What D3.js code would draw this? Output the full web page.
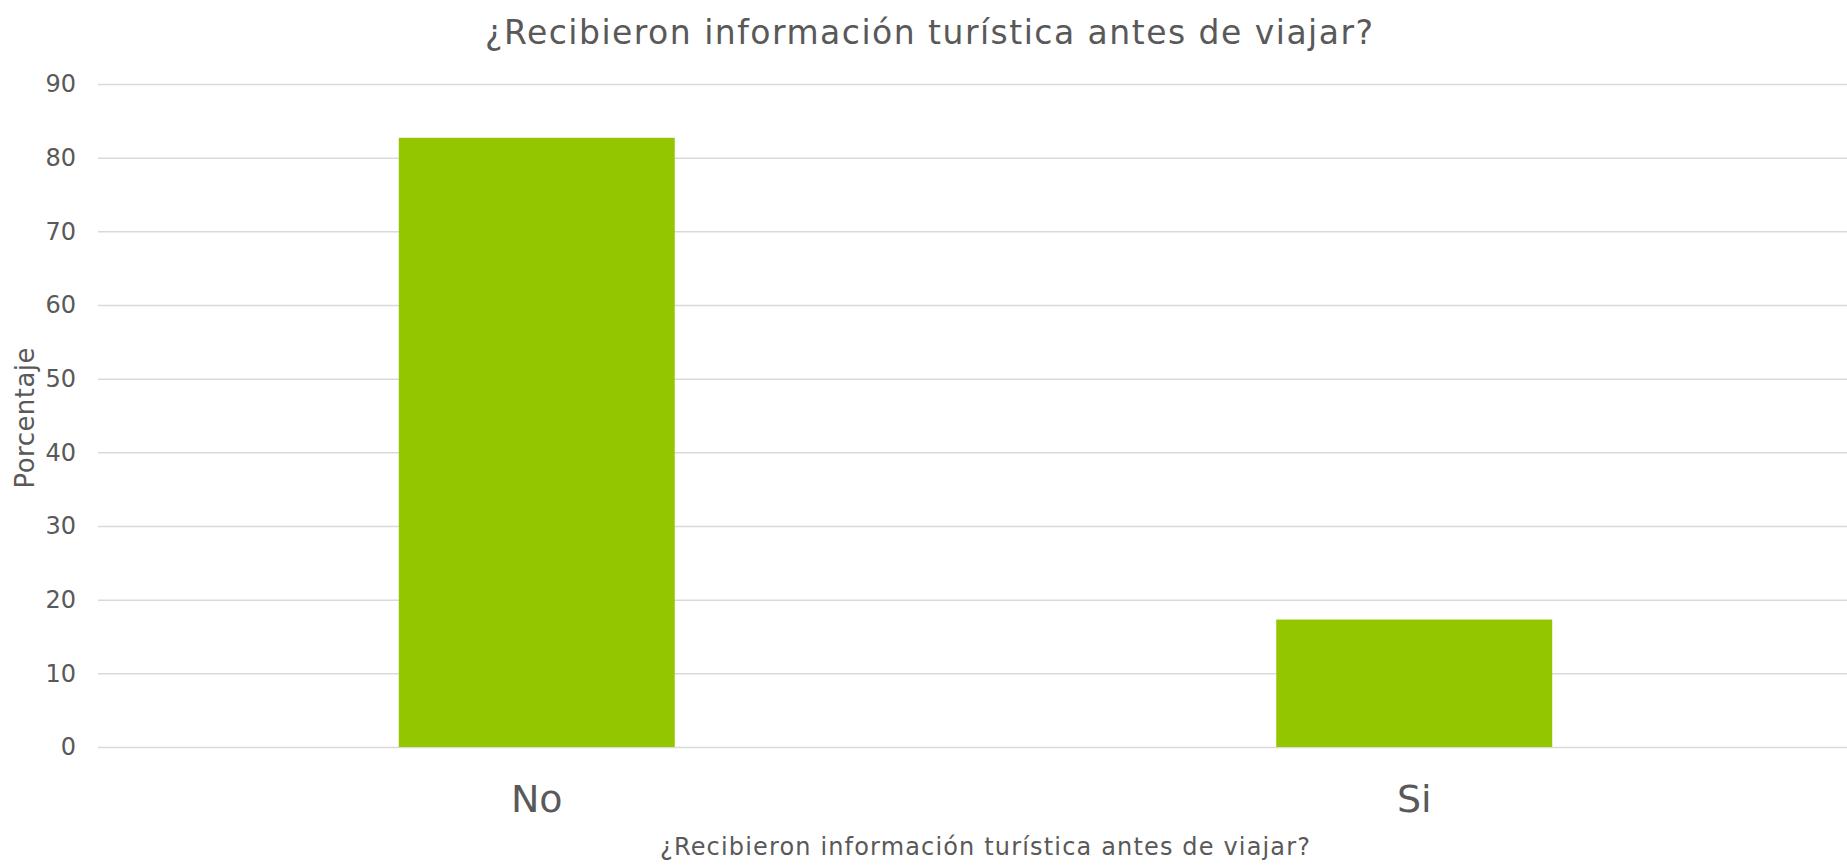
<!DOCTYPE html>
<html>
<head>
<meta charset="utf-8">
<script src="https://cdn.jsdelivr.net/npm/d3@7"></script>
<style>
  html, body { margin: 0; padding: 0; background: #fff; }
  svg text { font-family: "Century Gothic", "URW Gothic", "DejaVu Sans", sans-serif; fill: #595959; }
</style>
</head>
<body>
<div id="chart"></div>
<script>
// data
const categories = ['No', 'Si'];
const percentages = [82.7, 17.3];
const yTicks = [0, 10, 20, 30, 40, 50, 60, 70, 80, 90];
const chartTitle = '¿Recibieron información turística antes de viajar?';
const xTitle = '¿Recibieron información turística antes de viajar?';
const yTitle = 'Porcentaje';

const W = 1847, H = 865;
const margin = {top: 84, right: 0, bottom: 118, left: 98};
const width = W - margin.left - margin.right;
const height = H - margin.top - margin.bottom;

const svg = d3.select('#chart').append('svg')
  .attr('width', W)
  .attr('height', H);

// plot area runs a few px past the window's right edge
const x = d3.scaleBand()
  .domain(categories)
  .range([0, width + 6])
  .paddingInner(0.6855)
  .paddingOuter(0.3428);

const y = d3.scaleLinear()
  .domain([0, 90])
  .range([height, 0]);

const g = svg.append('g')
  .attr('transform', `translate(${margin.left},${margin.top})`);

// gridlines
g.append('g')
  .call(d3.axisLeft(y).tickValues(yTicks).tickSize(-width).tickFormat(''))
  .call(a => a.select('.domain').remove())
  .call(a => a.selectAll('line').attr('stroke', '#d9d9d9').attr('stroke-width', 1.5));

// y tick labels
g.append('g')
  .call(d3.axisLeft(y).tickValues(yTicks).tickSize(0).tickPadding(22))
  .call(a => a.select('.domain').remove())
  .call(a => a.selectAll('text').attr('font-size', 24).attr('fill', '#595959'));

// bars
g.selectAll('.bar')
  .data(categories)
  .enter().append('rect')
  .attr('class', 'bar')
  .attr('x', (d) => x(d))
  .attr('y', (d, i) => y(percentages[i]))
  .attr('width', x.bandwidth())
  .attr('height', (d, i) => height - y(percentages[i]))
  .attr('fill', '#94c600');

// x category labels
g.append('g')
  .attr('transform', `translate(0,${height})`)
  .call(d3.axisBottom(x).tickSize(0))
  .call(a => a.select('.domain').remove())
  .call(a => a.selectAll('text')
    .attr('dy', null)
    .attr('y', 65)
    .attr('font-size', 38)
    .attr('fill', '#595959'));

// titles
svg.append('text')
  .attr('x', 929)
  .attr('y', 44)
  .attr('text-anchor', 'middle')
  .attr('font-size', 33)
  .attr('textLength', 888)
  .attr('lengthAdjust', 'spacing')
  .text(chartTitle);

svg.append('text')
  .attr('x', 985)
  .attr('y', 855)
  .attr('text-anchor', 'middle')
  .attr('font-size', 24)
  .attr('textLength', 650)
  .attr('lengthAdjust', 'spacing')
  .text(xTitle);

svg.append('text')
  .attr('transform', `translate(34,418) rotate(-90)`)
  .attr('text-anchor', 'middle')
  .attr('font-size', 26)
  .attr('textLength', 141)
  .attr('lengthAdjust', 'spacing')
  .text(yTitle);
</script>
</body>
</html>
